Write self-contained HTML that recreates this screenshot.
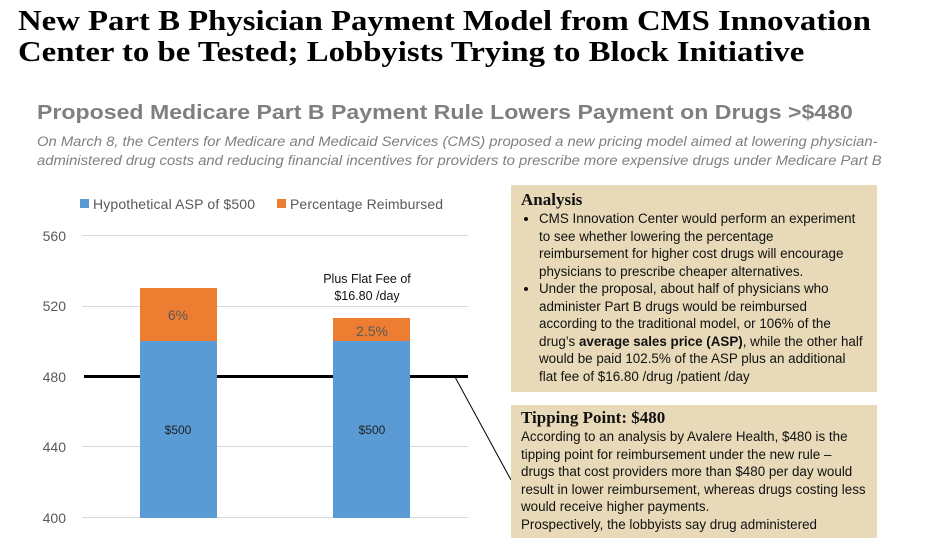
<!DOCTYPE html>
<html><head><style>
body{margin:0;width:932px;height:524px;overflow:hidden;background:#fff;position:relative;font-family:"Liberation Sans",sans-serif}
.a{position:absolute}
h1{position:absolute;left:18px;top:6px;margin:0;font:bold 28px/31px "Liberation Serif",serif;color:#000;transform:scaleX(1.17);transform-origin:0 0;white-space:nowrap}
.sub{left:37px;top:102px;font:bold 20px "Liberation Sans",sans-serif;color:#7f7f7f;white-space:nowrap;transform:scaleX(1.155);transform-origin:0 0}
.it{left:37px;top:132px;font:italic 13.4px/19px "Liberation Sans",sans-serif;color:#7f7f7f;white-space:nowrap;transform:scaleX(1.105);transform-origin:0 0}
.box{background:#e8dab9;font-size:13.4px;line-height:17.5px;color:#111}
.box h3{margin:0;font:bold 17px "Liberation Serif",serif}
ul{margin:0;padding-left:18px}
</style></head><body>
<h1>New Part B Physician Payment Model from CMS Innovation<br>Center to be Tested; Lobbyists Trying to Block Initiative</h1>
<div class="a sub">Proposed Medicare Part B Payment Rule Lowers Payment on Drugs &gt;$480</div>
<div class="a it">On March 8, the Centers for Medicare and Medicaid Services (CMS) proposed a new pricing model aimed at lowering physician-<br>administered drug costs and reducing financial incentives for providers to prescribe more expensive drugs under Medicare Part B</div>
<svg class="a" style="left:0;top:0" width="932" height="524">
<g font-family="Liberation Sans" font-size="14" fill="#595959">
<rect x="80" y="199" width="9" height="9" fill="#5b9bd5"/><text x="93" y="209" textLength="162">Hypothetical ASP of $500</text>
<rect x="277" y="199" width="9" height="9" fill="#ed7d31"/><text x="290" y="209" textLength="153">Percentage Reimbursed</text>
<text x="66" y="241" text-anchor="end">560</text>
<text x="66" y="311" text-anchor="end">520</text>
<text x="66" y="382" text-anchor="end">480</text>
<text x="66" y="452" text-anchor="end">440</text>
<text x="66" y="523" text-anchor="end">400</text>
</g>
<g stroke="#d9d9d9" stroke-width="1">
<line x1="82" x2="468" y1="235.5" y2="235.5"/><line x1="82" x2="468" y1="306.5" y2="306.5"/><line x1="82" x2="468" y1="446.5" y2="446.5"/><line x1="82" x2="468" y1="517.5" y2="517.5"/>
</g>
<line x1="84" x2="468" y1="376.5" y2="376.5" stroke="#000" stroke-width="3"/>
<rect x="140" y="288" width="77" height="53" fill="#ed7d31"/>
<rect x="140" y="341" width="77" height="177" fill="#5b9bd5"/>
<rect x="333" y="318" width="77" height="23" fill="#ed7d31"/>
<rect x="333" y="341" width="77" height="177" fill="#5b9bd5"/>
<g font-family="Liberation Sans" font-size="13" text-anchor="middle">
<text x="178" y="320" fill="#595959" font-size="14">6%</text>
<text x="372" y="336" fill="#595959" font-size="14">2.5%</text>
<text x="178" y="434" fill="#222" font-size="12">$500</text>
<text x="372" y="434" fill="#222" font-size="12">$500</text>
<text x="367" y="283" fill="#111" font-size="12.5">Plus Flat Fee of</text>
<text x="367" y="300" fill="#111" font-size="12.5">$16.80 /day</text>
</g>
<line x1="455" y1="377" x2="511" y2="480" stroke="#000" stroke-width="1"/>
</svg>
<div class="a box" style="left:511px;top:185px;width:345px;height:201px;padding:5px 11px 1px 10px">
<h3>Analysis</h3>
<ul><li>CMS Innovation Center would perform an experiment to see whether lowering the percentage reimbursement for higher cost drugs will encourage physicians to prescribe cheaper alternatives.</li>
<li>Under the proposal, about half of physicians who administer Part B drugs would be reimbursed according to the traditional model, or 106% of the drug’s <b>average sales price (ASP)</b>, while the other half would be paid 102.5% of the ASP plus an additional flat fee of $16.80 /drug /patient /day</li></ul>
</div>
<div class="a box" style="left:511px;top:405px;width:345px;height:130px;padding:3px 11px 0 10px">
<h3>Tipping Point: $480</h3>
According to an analysis by Avalere Health, $480 is the tipping point for reimbursement under the new rule – drugs that cost providers more than $480 per day would result in lower reimbursement, whereas drugs costing less would receive higher payments.<br>Prospectively, the lobbyists say drug administered
</div>
</body></html>
